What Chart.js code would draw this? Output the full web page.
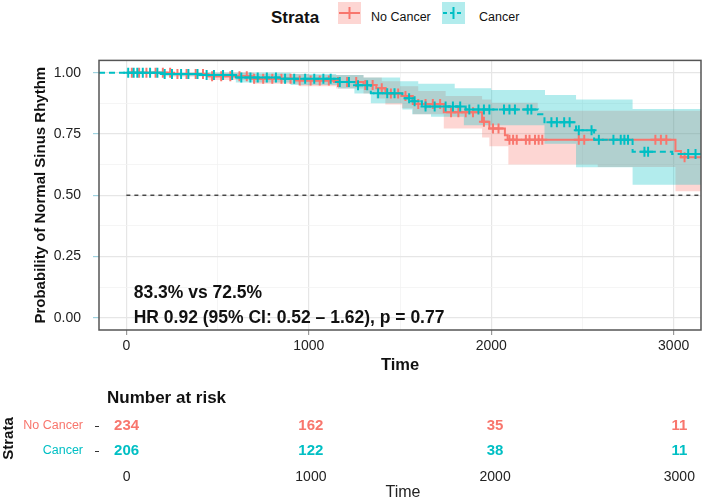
<!DOCTYPE html>
<html>
<head>
<meta charset="utf-8">
<script src="https://cdn.jsdelivr.net/npm/chart.js@4/dist/chart.umd.min.js"></script>
<style>
  body { margin: 0; width: 708px; height: 501px; background: #fff; position: relative; overflow: hidden;
         font-family: "Liberation Sans", sans-serif; }
  #legend { position: absolute; top: 0; left: 0; width: 708px; height: 36px; }
  #legend .lbl { position: absolute; top: 10px; font-size: 12.5px; color: #111; }
  #legend .ttl { position: absolute; top: 8px; font-size: 17px; font-weight: bold; color: #111; }
  #legend svg { position: absolute; top: 2px; }
  #main-wrap { position: absolute; left: 0; top: 40px; width: 708px; height: 335px; }
  #risk-wrap { position: absolute; left: 0; top: 375px; width: 708px; height: 126px; }
</style>
</head>
<body>
<div id="legend">
  <span class="ttl" style="left:271px">Strata</span>
  <svg style="left:338px" width="23" height="22"><rect width="23" height="22" fill="rgba(248,118,109,0.3)"/><line x1="1" y1="11" x2="22" y2="11" stroke="#F8766D" stroke-width="2"/><line x1="11.5" y1="5" x2="11.5" y2="17" stroke="#F8766D" stroke-width="2"/></svg>
  <span class="lbl" style="left:371px">No Cancer</span>
  <svg style="left:442px" width="23" height="22"><rect width="23" height="22" fill="rgba(0,191,196,0.3)"/><line x1="1" y1="11" x2="22" y2="11" stroke="#00BFC4" stroke-width="2" stroke-dasharray="4 3"/><line x1="11.5" y1="5" x2="11.5" y2="17" stroke="#00BFC4" stroke-width="2"/></svg>
  <span class="lbl" style="left:479px">Cancer</span>
</div>
<div id="main-wrap"><canvas id="chart-km"></canvas></div>
<div id="risk-wrap"><canvas id="chart-risk"></canvas></div>

<script>
// ── Adatok ──
const groups = ['No Cancer', 'Cancer'];
const groupColors = ['#F8766D', '#00BFC4'];

// No Cancer – túlélési lépcsők
const noCancerTime = [0, 250, 450, 700, 950, 1150, 1300, 1370, 1420, 1510, 1570, 1740, 1950, 1990, 2075, 2090, 3010, 3040, 3150];
const noCancerSurv = [1.0, 0.995, 0.985, 0.975, 0.968, 0.962, 0.95, 0.936, 0.915, 0.905, 0.872, 0.838, 0.8, 0.772, 0.745, 0.726, 0.68, 0.655, 0.655];
const noCancerUpperTime = [0, 300, 700, 1000, 1300, 1400, 1500, 1600, 1750, 1950, 2000, 2255, 3150];
const noCancerUpper = [1.0, 1.0, 0.995, 0.99, 0.98, 0.965, 0.945, 0.925, 0.905, 0.89, 0.877, 0.845, 0.845];
const noCancerLowerTime = [0, 250, 450, 700, 950, 1150, 1300, 1370, 1420, 1510, 1570, 1740, 1950, 1990, 2094, 2584, 3010, 3150];
const noCancerLower = [1.0, 0.985, 0.97, 0.955, 0.945, 0.935, 0.915, 0.895, 0.87, 0.855, 0.83, 0.772, 0.735, 0.7, 0.625, 0.615, 0.516, 0.516];
const noCancerCensor = [30, 70, 110, 160, 200, 240, 280, 330, 380, 420, 470, 520, 570, 620, 660, 700, 750, 800, 850, 900, 950,
  1010, 1060, 1110, 1160, 1210, 1260, 1310, 1350, 1400, 1450, 1490, 1530, 1600, 1640, 1680, 1720, 1780, 1820, 1860, 1900,
  1960, 2010, 2040, 2100, 2120, 2140, 2190, 2210, 2240, 2260, 2280, 2480, 2510, 2900, 2930, 2960, 3060];

// Cancer – túlélési lépcsők
const cancerTime = [-150, 200, 400, 600, 850, 1160, 1250, 1340, 1513, 1567, 1620, 1860, 2257, 2292, 2465, 2564, 2775, 2992, 3150];
const cancerSurv = [1.0, 0.995, 0.99, 0.98, 0.975, 0.962, 0.949, 0.916, 0.896, 0.883, 0.862, 0.85, 0.83, 0.798, 0.765, 0.726, 0.677, 0.668, 0.668];
const cancerUpperTime = [-150, 600, 900, 1150, 1300, 1500, 1600, 1800, 2000, 2295, 2465, 2775, 3150];
const cancerUpper = [1.0, 1.0, 0.995, 0.99, 0.98, 0.965, 0.955, 0.936, 0.929, 0.909, 0.89, 0.852, 0.852];
const cancerLowerTime = [-150, 200, 600, 900, 1160, 1250, 1340, 1513, 1567, 1670, 1850, 2292, 2465, 2775, 3150];
const cancerLower = [1.0, 0.985, 0.96, 0.95, 0.935, 0.915, 0.875, 0.85, 0.83, 0.82, 0.785, 0.71, 0.614, 0.543, 0.543];
const cancerCensor = [10, 40, 60, 90, 130, 170, 210, 250, 300, 340, 390, 440, 480, 530, 580, 630, 680, 720, 770, 820, 870,
  920, 980, 1030, 1080, 1120, 1170, 1220, 1270, 1320, 1380, 1430, 1470, 1550, 1580, 1640, 1690, 1750, 1790, 1830, 1880,
  1930, 1960, 1990, 2070, 2100, 2130, 2200, 2220, 2330, 2360, 2400, 2430, 2480, 2550, 2590, 2670, 2710, 2730, 2750,
  2840, 2860, 3080, 3120];

// Medián vonal (0.5)
const medianLineTime = [0, 3150];
const medianLineSurv = [0.5, 0.5];

// Tengelyek
const xMajorTicks = [0, 1000, 2000, 3000];
const xMinorTicks = [500, 1500, 2500];
const yMajorTicks = [0, 0.25, 0.5, 0.75, 1];
const yMinorTicks = [0.125, 0.375, 0.625, 0.875];

// Annotáció
const annotLines = ['83.3% vs 72.5%', 'HR 0.92 (95% CI: 0.52 – 1.62), p = 0.77'];
const annotTime = 40;
const annotSurv = [0.10, 0.0];

// Number at risk
const riskTimes = [0, 1000, 2000, 3000];
const riskNoCancer = [234, 162, 35, 11];
const riskCancer = [206, 122, 38, 11];

const FONT = '"Liberation Sans", Arial, sans-serif';

function zip(xs, ys) { return xs.map((x, i) => ({ x, y: ys[i] })); }
function survAt(times, surv, t) {
  let v = surv[0];
  for (let i = 0; i < times.length; i++) { if (times[i] <= t) v = surv[i]; }
  return v;
}

// ── Panel keret + annotáció ──
const panelPlugin = {
  id: 'panel',
  afterDraw(chart) {
    const { ctx, chartArea: a, scales } = chart;
    ctx.save();
    ctx.strokeStyle = '#555';
    ctx.lineWidth = 1.5;
    ctx.strokeRect(a.left, a.top, a.right - a.left, a.bottom - a.top);
    ctx.fillStyle = '#111';
    ctx.font = 'bold 17.5px ' + FONT;
    ctx.textAlign = 'left';
    ctx.textBaseline = 'middle';
    annotLines.forEach((txt, i) => {
      ctx.fillText(txt, scales.x.getPixelForValue(annotTime), scales.y.getPixelForValue(annotSurv[i]));
    });
    ctx.restore();
  }
};

const kmCtx = document.getElementById('chart-km').getContext('2d');
new Chart(kmCtx, {
  type: 'line',
  data: {
    datasets: [
      { data: zip(noCancerUpperTime, noCancerUpper), stepped: true, borderWidth: 0, pointRadius: 0,
        fill: '+1', backgroundColor: 'rgba(248,118,109,0.3)', order: 10 },
      { data: zip(noCancerLowerTime, noCancerLower), stepped: true, borderWidth: 0, pointRadius: 0,
        fill: false, order: 10 },
      { data: zip(cancerUpperTime, cancerUpper), stepped: true, borderWidth: 0, pointRadius: 0,
        fill: '+1', backgroundColor: 'rgba(0,191,196,0.3)', order: 9 },
      { data: zip(cancerLowerTime, cancerLower), stepped: true, borderWidth: 0, pointRadius: 0,
        fill: false, order: 9 },
      { data: zip(medianLineTime, medianLineSurv), borderColor: '#222', borderWidth: 1.2, borderDash: [4, 4],
        pointRadius: 0, fill: false, order: 6 },
      { label: groups[0], data: zip(noCancerTime, noCancerSurv), stepped: true, borderColor: groupColors[0],
        borderWidth: 2, pointRadius: 0, fill: false, order: 4 },
      { label: groups[1], data: zip(cancerTime, cancerSurv), stepped: true, borderColor: groupColors[1],
        borderWidth: 2, borderDash: [6, 4], pointRadius: 0, fill: false, order: 2 },
      { data: noCancerCensor.map(t => ({ x: t, y: survAt(noCancerTime, noCancerSurv, t) })), showLine: false,
        pointStyle: 'cross', pointRadius: 5, borderColor: groupColors[0], borderWidth: 2, order: 3 },
      { data: cancerCensor.map(t => ({ x: t, y: survAt(cancerTime, cancerSurv, t) })), showLine: false,
        pointStyle: 'cross', pointRadius: 5, borderColor: groupColors[1], borderWidth: 2, order: 1 }
    ]
  },
  options: {
    responsive: true,
    maintainAspectRatio: false,
    animation: false,
    layout: { padding: { top: 9, right: 1, left: 0, bottom: 0 } },
    plugins: { legend: { display: false }, tooltip: { enabled: false } },
    scales: {
      x: {
        type: 'linear', min: -150, max: 3150,
        afterBuildTicks: s => { s.ticks = [...xMajorTicks, ...xMinorTicks].sort((a, b) => a - b).map(v => ({ value: v })); },
        afterFit: s => { s.height = 45; },
        border: { display: false },
        grid: {
          color: c => xMajorTicks.includes(c.tick?.value) ? '#E6E6E6' : '#F2F2F2',
          lineWidth: c => xMajorTicks.includes(c.tick?.value) ? 1.2 : 0.8,
          tickColor: c => xMajorTicks.includes(c.tick?.value) ? '#999' : 'transparent',
          tickLength: 5
        },
        ticks: {
          autoSkip: false, maxRotation: 0, padding: 3, color: '#222', font: { family: FONT, size: 14 },
          callback: v => xMajorTicks.includes(v) ? String(v) : ''
        },
        title: { display: true, text: 'Time', color: '#111', font: { family: FONT, size: 16.5, weight: 'bold' },
                 padding: { top: 0, bottom: 0 } }
      },
      y: {
        min: -0.05, max: 1.05,
        afterBuildTicks: s => { s.ticks = [...yMajorTicks, ...yMinorTicks].sort((a, b) => a - b).map(v => ({ value: v })); },
        afterFit: s => { s.width = 99; },
        border: { display: false },
        grid: {
          color: c => yMajorTicks.includes(c.tick?.value) ? '#E6E6E6' : '#F2F2F2',
          lineWidth: c => yMajorTicks.includes(c.tick?.value) ? 1.2 : 0.8,
          tickColor: c => yMajorTicks.includes(c.tick?.value) ? '#9fd3e0' : 'transparent',
          tickLength: 6
        },
        ticks: {
          autoSkip: false, padding: 12, color: '#222', font: { family: FONT, size: 14 },
          callback: v => yMajorTicks.includes(v) ? v.toFixed(2) : ''
        },
        title: { display: true, text: 'Probability of Normal Sinus Rhythm', color: '#111',
                 font: { family: FONT, size: 15, weight: 'bold' }, padding: { top: 32, bottom: 0 } }
      }
    }
  },
  plugins: [panelPlugin]
});

// ── Number at risk tábla ──
const riskPlugin = {
  id: 'riskText',
  afterDatasetsDraw(chart) {
    const { ctx, scales } = chart;
    ctx.save();
    ctx.textBaseline = 'middle';
    ctx.fillStyle = '#111';
    ctx.font = 'bold 17px ' + FONT;
    ctx.textAlign = 'left';
    ctx.fillText('Number at risk', 107, 23);
    ctx.font = 'bold 15px ' + FONT;
    ctx.textAlign = 'center';
    [riskNoCancer, riskCancer].forEach((row, gi) => {
      ctx.fillStyle = groupColors[gi];
      row.forEach((n, i) => {
        ctx.fillText(String(n), scales.x.getPixelForValue(riskTimes[i]), scales.y.getPixelForValue(gi));
      });
    });
    ctx.restore();
  }
};

const riskCtx = document.getElementById('chart-risk').getContext('2d');
new Chart(riskCtx, {
  type: 'scatter',
  data: { labels: groups, datasets: [{ data: [], pointRadius: 0 }] },
  options: {
    responsive: true,
    maintainAspectRatio: false,
    animation: false,
    layout: { padding: { top: 38.5, right: 1, left: 0, bottom: 0 } },
    plugins: { legend: { display: false }, tooltip: { enabled: false } },
    scales: {
      x: {
        type: 'linear', min: -150, max: 3150,
        afterBuildTicks: s => { s.ticks = riskTimes.map(v => ({ value: v })); },
        afterFit: s => { s.height = 37.5; },
        border: { display: false },
        grid: { display: false, drawTicks: false },
        ticks: { padding: 5, color: '#222', font: { family: FONT, size: 14 }, callback: v => String(v) },
        title: { display: true, text: 'Time', color: '#222', font: { family: FONT, size: 16, lineHeight: 1 },
                 padding: { top: 0, bottom: 0 } }
      },
      y: {
        type: 'category', labels: groups, offset: true,
        afterFit: s => { s.width = 99; },
        border: { display: false },
        grid: { display: true, drawOnChartArea: false, drawTicks: true, tickLength: 4, tickColor: '#333' },
        ticks: { padding: 12, color: c => groupColors[c.index], font: { family: FONT, size: 12.5 } },
        title: { display: true, text: 'Strata', color: '#111', font: { family: FONT, size: 15, weight: 'bold', lineHeight: 1 },
                 padding: { top: 1, bottom: 0 } }
      }
    }
  },
  plugins: [riskPlugin]
});
</script>
</body>
</html>
